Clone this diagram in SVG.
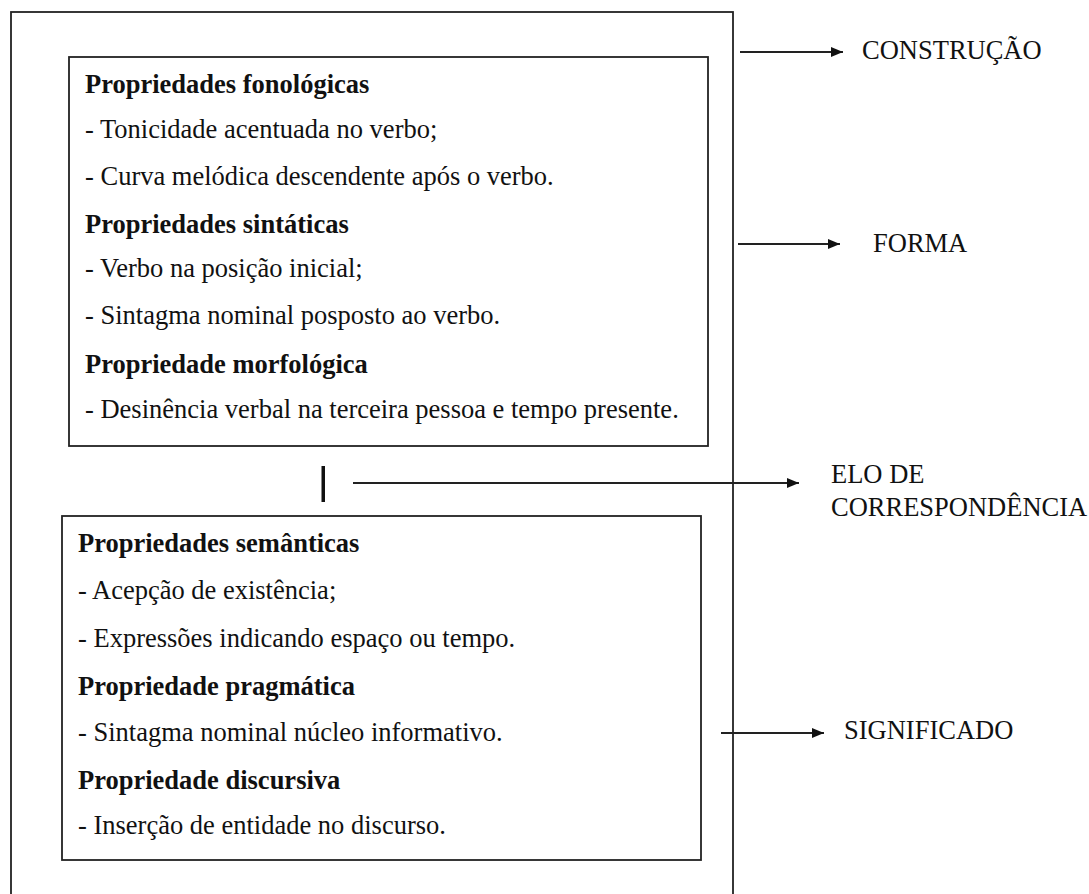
<svg xmlns="http://www.w3.org/2000/svg" width="1089" height="894" viewBox="0 0 1089 894">
<style>
.box{fill:none;stroke:#222;stroke-width:1.8}
.t{font-family:"Liberation Serif","Times New Roman",serif;font-size:26.5px;fill:#111}
.b{font-weight:bold}
.lbl{font-family:"Liberation Serif","Times New Roman",serif;font-size:26.5px;fill:#111}
.conn{stroke:#222;stroke-width:1.8;fill:none;marker-end:url(#ah)}
</style>
<defs>
<marker id="ah" viewBox="0 0 12 10" refX="12" refY="5" markerWidth="12" markerHeight="10" markerUnits="userSpaceOnUse" orient="auto">
<path d="M0,0 L12,5 L0,10 z" fill="#111"/>
</marker>
</defs>
<rect width="1089" height="894" fill="#fff"/>
<g id="construcao">
<rect class="box" x="11" y="12" width="722" height="900"/>
</g>
<g id="forma">
<rect class="box" x="69" y="57" width="639" height="389"/>
<text class="t b" x="85" y="93">Propriedades fonológicas</text>
<text class="t" x="85" y="138">- Tonicidade acentuada no verbo;</text>
<text class="t" x="85" y="185">- Curva melódica descendente após o verbo.</text>
<text class="t b" x="85" y="233">Propriedades sintáticas</text>
<text class="t" x="85" y="277">- Verbo na posição inicial;</text>
<text class="t" x="85" y="324">- Sintagma nominal posposto ao verbo.</text>
<text class="t b" x="85" y="373">Propriedade morfológica</text>
<text class="t" x="85" y="418">- Desinência verbal na terceira pessoa e tempo presente.</text>
</g>
<g id="elo">
<rect x="321.5" y="466" width="3.5" height="36" fill="#111"/>
</g>
<g id="significado">
<rect class="box" x="62" y="516" width="639" height="344"/>
<text class="t b" x="78" y="552">Propriedades semânticas</text>
<text class="t" x="78" y="599">- Acepção de existência;</text>
<text class="t" x="78" y="647">- Expressões indicando espaço ou tempo.</text>
<text class="t b" x="78" y="695">Propriedade pragmática</text>
<text class="t" x="78" y="741">- Sintagma nominal núcleo informativo.</text>
<text class="t b" x="78" y="789">Propriedade discursiva</text>
<text class="t" x="78" y="834">- Inserção de entidade no discurso.</text>
</g>
<g id="labels">
<text class="lbl" x="862" y="59">CONSTRUÇÃO</text>
<text class="lbl" x="873" y="252">FORMA</text>
<text class="lbl" x="831" y="483">ELO DE</text>
<text class="lbl" x="831" y="516">CORRESPONDÊNCIA</text>
<text class="lbl" x="844" y="739">SIGNIFICADO</text>
</g>
<g id="connectors">
<line class="conn" x1="740" y1="52" x2="843" y2="52"/>
<line class="conn" x1="738" y1="244" x2="840" y2="244"/>
<line class="conn" x1="353" y1="483" x2="799" y2="483"/>
<line class="conn" x1="721" y1="733" x2="824" y2="733"/>
</g>
</svg>
